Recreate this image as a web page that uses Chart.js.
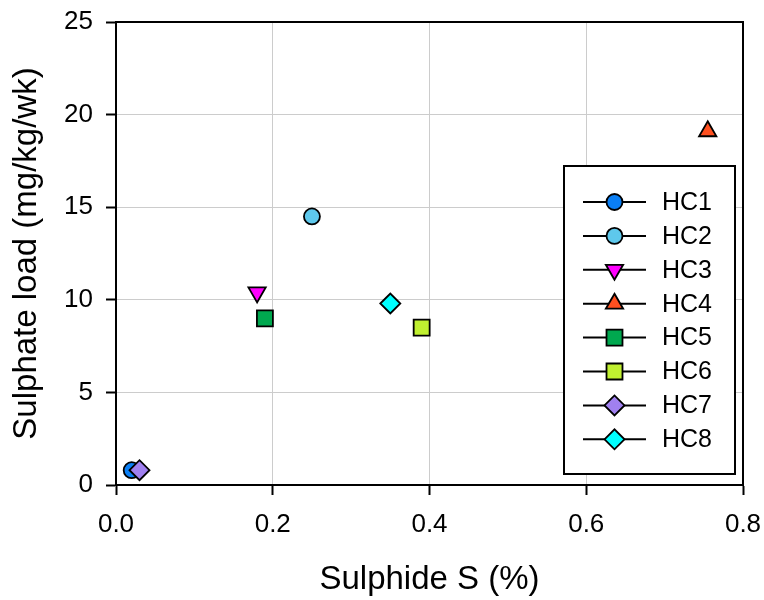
<!DOCTYPE html>
<html>
<head>
<meta charset="utf-8">
<script src="https://cdn.jsdelivr.net/npm/chart.js@4.4.1/dist/chart.umd.min.js"></script>
<style>
  html, body { margin: 0; padding: 0; background: #ffffff; }
  #wrap { width: 764px; height: 600px; }
</style>
</head>
<body>
<div id="wrap"><canvas id="chart" width="764" height="600"></canvas></div>
<script>
// Sample sites
const categories = ['HC1', 'HC2', 'HC3', 'HC4', 'HC5', 'HC6', 'HC7', 'HC8'];
// Sulphide S content (%)
const sulphideS = [0.02, 0.25, 0.18, 0.755, 0.19, 0.39, 0.03, 0.35];
// Sulphate load (mg/kg/wk)
const sulphateLoad = [0.8, 14.5, 10.4, 19.1, 9.0, 8.5, 0.8, 9.8];
// Axis tick values
const xTicks = [0.0, 0.2, 0.4, 0.6, 0.8];
const yTicks = [0, 5, 10, 15, 20, 25];

// Marker appearance per site
const fillColours = ['#0a7ff5', '#5ec8ec', '#ff00ff', '#ff5020', '#00a84f', '#c0f030', '#a080f0', '#00ffff'];
const markerStyles = ['circle', 'circle', 'triangle', 'triangle', 'rect', 'rect', 'rectRot', 'rectRot'];
const markerRotations = [0, 0, 180, 0, 0, 0, 0, 0];
const markerRadii = [8, 8, 10, 10, 11.3, 11.3, 10, 10];

const FONT = '"Liberation Sans", Arial, Helvetica, sans-serif';

const datasets = categories.map((name, i) => ({
  label: name,
  data: [{ x: sulphideS[i], y: sulphateLoad[i] }],
  showLine: false,
  pointStyle: markerStyles[i],
  rotation: markerRotations[i],
  pointRadius: markerRadii[i],
  pointHoverRadius: markerRadii[i],
  pointBackgroundColor: fillColours[i],
  pointBorderColor: '#000000',
  pointBorderWidth: 1.8,
  backgroundColor: fillColours[i],
  borderColor: '#000000',
  order: categories.length - i
}));

// Black frame round the plotting area
const frame = {
  id: 'frame',
  beforeDatasetsDraw(chart) {
    const { ctx, chartArea: a } = chart;
    ctx.save();
    ctx.strokeStyle = '#000000';
    ctx.lineWidth = 2;
    ctx.strokeRect(a.left, a.top, a.right - a.left, a.bottom - a.top);
    ctx.restore();
  }
};

// Boxed key with a line through each marker
const keyBox = {
  id: 'keyBox',
  afterDraw(chart) {
    const { ctx } = chart;
    const box = { left: 564, top: 166, right: 735, bottom: 474 };
    const firstY = 202, step = 33.9;
    ctx.save();
    ctx.fillStyle = '#ffffff';
    ctx.fillRect(box.left, box.top, box.right - box.left, box.bottom - box.top);
    ctx.strokeStyle = '#000000';
    ctx.lineWidth = 2;
    ctx.strokeRect(box.left, box.top, box.right - box.left, box.bottom - box.top);
    chart.data.datasets.forEach((ds, i) => {
      const y = firstY + i * step;
      ctx.strokeStyle = '#000000';
      ctx.lineWidth = 2;
      ctx.beginPath();
      ctx.moveTo(583, y);
      ctx.lineTo(646, y);
      ctx.stroke();
      ctx.fillStyle = ds.pointBackgroundColor;
      ctx.strokeStyle = '#000000';
      ctx.lineWidth = ds.pointBorderWidth;
      Chart.helpers.drawPoint(ctx, {
        pointStyle: ds.pointStyle,
        rotation: ds.rotation,
        radius: ds.pointRadius,
        borderWidth: ds.pointBorderWidth
      }, 614.5, y);
      ctx.fillStyle = '#000000';
      ctx.font = '25px ' + FONT;
      ctx.textAlign = 'left';
      ctx.textBaseline = 'middle';
      ctx.fillText(ds.label, 662, y + 1);
    });
    ctx.restore();
  }
};

new Chart(document.getElementById('chart'), {
  type: 'scatter',
  data: { datasets },
  options: {
    responsive: false,
    animation: false,
    events: [],
    layout: { padding: { top: 22, right: 21, left: 0, bottom: 0 } },
    plugins: {
      legend: { display: false },
      tooltip: { enabled: false }
    },
    scales: {
      x: {
        type: 'linear',
        position: 'bottom',
        min: xTicks[0],
        max: xTicks[xTicks.length - 1],
        afterBuildTicks(scale) { scale.ticks = xTicks.map(v => ({ value: v })); },
        afterFit(scale) {
          scale.height = 115;
          scale.paddingLeft = 0;
          scale.paddingRight = 0;
        },
        ticks: {
          callback: v => Number(v).toFixed(1),
          color: '#000000',
          font: { family: FONT, size: 26 },
          padding: 14,
          maxRotation: 0
        },
        grid: {
          color: '#cccccc',
          lineWidth: 1,
          tickLength: 10,
          tickColor: '#000000',
          tickWidth: 2
        },
        border: { color: '#000000', width: 2 },
        title: {
          display: true,
          text: 'Sulphide S (%)',
          color: '#000000',
          font: { family: FONT, size: 33 },
          padding: { top: 0, bottom: 0 }
        }
      },
      y: {
        type: 'linear',
        min: yTicks[0],
        max: yTicks[yTicks.length - 1],
        afterBuildTicks(scale) { scale.ticks = yTicks.map(v => ({ value: v })); },
        afterFit(scale) {
          scale.width = 116;
          scale.paddingTop = 0;
          scale.paddingBottom = 0;
        },
        ticks: {
          callback: v => String(v),
          color: '#000000',
          font: { family: FONT, size: 26 },
          padding: 13
        },
        grid: {
          color: '#cccccc',
          lineWidth: 1,
          tickLength: 10,
          tickColor: '#000000',
          tickWidth: 2
        },
        border: { color: '#000000', width: 2 },
        title: {
          display: true,
          text: 'Sulphate load (mg/kg/wk)',
          color: '#000000',
          font: { family: FONT, size: 33 },
          padding: { top: 7, bottom: 0 }
        }
      }
    }
  },
  plugins: [frame, keyBox]
});
</script>
</body>
</html>
